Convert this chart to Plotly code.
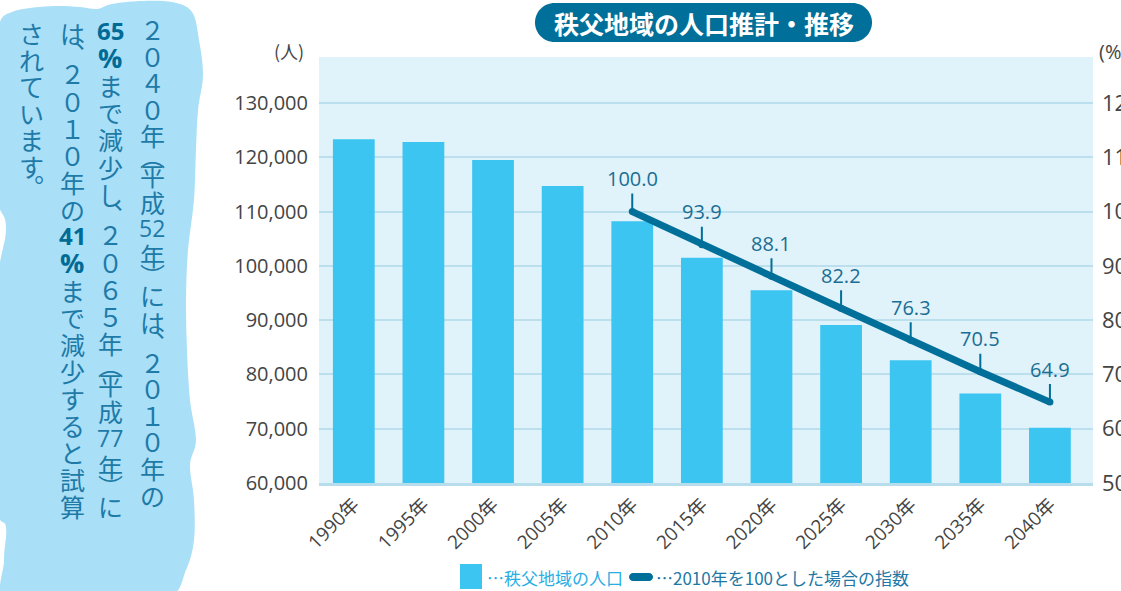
import plotly.graph_objects as go

# ---------------- data ----------------
years = ["1990年", "1995年", "2000年", "2005年", "2010年", "2015年",
         "2020年", "2025年", "2030年", "2035年", "2040年"]
population = [123300, 122800, 119500, 114700, 108200, 101500,
              95500, 89100, 82600, 76500, 70200]
index_years = ["2010年", "2015年", "2020年", "2025年", "2030年", "2035年", "2040年"]
index_values = [100.0, 93.9, 88.1, 82.2, 76.3, 70.5, 64.9]
left_ticks = [60000, 70000, 80000, 90000, 100000, 110000, 120000, 130000]
right_ticks = [50, 60, 70, 80, 90, 100, 110, 120]

title_text = "秩父地域の人口推計・推移"
legend_bar_text = "…秩父地域の人口"
legend_line_text = "…2010年を100とした場合の指数"
left_unit = "(人)"
right_unit = "(%)"

# vertical note, columns right to left
note_col1 = ["２", "０", "４", "０", "年", "︵", "平", "成", "52", "年", "︶", "に", "は", "︑",
             "２", "０", "１", "０", "年", "の"]
note_col2 = ["65", "%", "ま", "で", "減", "少", "し", "︑", "２", "０", "６", "５", "年", "︵",
             "平", "成", "77", "年", "︶", "に"]
note_col3 = ["は", "︑", "２", "０", "１", "０", "年", "の", "41", "%", "ま", "で", "減", "少",
             "す", "る", "と", "試", "算"]
note_col4 = ["さ", "れ", "て", "い", "ま", "す", "︒"]

# ---------------- style ----------------
W, H = 1121, 591
JP = "Noto Sans CJK JP"
NUM = "Open Sans, Noto Sans CJK JP"
DARK = "#006f99"
BAR = "#3dc5f2"
TXT = "#444444"


def px(x):
    return x / W


def py(y):
    return 1 - y / H


def smooth_path(points):
    n = len(points)
    pts = [(px(x), py(y)) for x, y in points]
    d = "M %.5f,%.5f " % pts[0]
    for i in range(n):
        p0 = pts[(i - 1) % n]
        p1 = pts[i]
        p2 = pts[(i + 1) % n]
        p3 = pts[(i + 2) % n]
        c1 = (p1[0] + (p2[0] - p0[0]) / 6, p1[1] + (p2[1] - p0[1]) / 6)
        c2 = (p2[0] - (p3[0] - p1[0]) / 6, p2[1] - (p3[1] - p1[1]) / 6)
        d += "C %.5f,%.5f %.5f,%.5f %.5f,%.5f " % (c1 + c2 + p2)
    return d + "Z"


def round_rect(x0, y0, x1, y1, r):
    k = 0.5523 * r
    seg = [
        ("M", (x0 + r, y0)), ("L", (x1 - r, y0)),
        ("C", (x1 - r + k, y0), (x1, y0 + r - k), (x1, y0 + r)),
        ("L", (x1, y1 - r)),
        ("C", (x1, y1 - r + k), (x1 - r + k, y1), (x1 - r, y1)),
        ("L", (x0 + r, y1)),
        ("C", (x0 + r - k, y1), (x0, y1 - r + k), (x0, y1 - r)),
        ("L", (x0, y0 + r)),
        ("C", (x0, y0 + r - k), (x0 + r - k, y0), (x0 + r, y0)),
    ]
    out = ""
    for s in seg:
        out += s[0] + " " + " ".join("%.5f,%.5f" % (px(a), py(b)) for a, b in s[1:]) + " "
    return out + "Z"


fig = go.Figure()
fig.add_trace(go.Bar(x=years, y=population, marker=dict(color=BAR, line=dict(width=0)),
                     yaxis="y", hoverinfo="x+y"))
fig.add_trace(go.Scatter(x=index_years, y=index_values, yaxis="y2", mode="lines+markers",
                         line=dict(color=DARK, width=7), marker=dict(color=DARK, size=7)))

y_top = 60000 + (483 - 57) / 380 * 70000
y2_top = 50 + (483 - 57) / 380 * 70

fig.update_layout(
    width=W, height=H, margin=dict(l=0, r=0, t=0, b=0),
    paper_bgcolor="white", plot_bgcolor="#e0f2fa", showlegend=False, bargap=0.4,
    xaxis=dict(domain=[319 / W, 1093 / W], type="category", tickangle=-45,
               tickfont=dict(family=NUM, size=19, color=TXT), showgrid=False,
               showline=True, linecolor="#b7dcec", linewidth=3, ticks="",
               automargin=False),
    yaxis=dict(domain=[1 - 483 / H, 1 - 57 / H], range=[60000, y_top], tickvals=left_ticks,
               tickformat=",", showgrid=True, gridcolor="#bcdfee", gridwidth=2,
               zeroline=False, ticks="", ticklabelstandoff=10,
               tickfont=dict(family=NUM, size=20, color=TXT), automargin=False),
    yaxis2=dict(overlaying="y", side="right", anchor="x", range=[50, y2_top],
                tickvals=right_ticks, showgrid=False, zeroline=False, ticks="",
                ticklabelstandoff=8, tickfont=dict(family=NUM, size=22, color=TXT),
                automargin=False),
)

shapes = []
annotations = []

# note blob
blob = [(0, 22), (12, 12), (30, 8), (55, 6), (80, 7), (97, 9), (112, 4), (140, 1),
        (172, 2), (192, 12), (199, 40), (203, 75), (198, 110), (196, 150), (194, 200),
        (188, 250), (186, 300), (187, 350), (190, 400), (196, 440), (190, 465),
        (194, 500), (194, 540), (186, 570), (168, 598), (100, 604), (8, 604),
        (4, 560), (6, 527), (-4, 495), (-4, 300), (6, 228), (-4, 190), (-4, 60)]
shapes.append(dict(type="path", xref="paper", yref="paper", path=smooth_path(blob),
                   fillcolor="#aadff8", line=dict(width=0), layer="below"))

# title pill
shapes.append(dict(type="path", xref="paper", yref="paper",
                   path=round_rect(535, 3, 872, 42, 19.5), fillcolor=DARK, line=dict(width=0)))
annotations.append(dict(x=px(703.5), y=py(23), xref="paper", yref="paper", showarrow=False,
                        text="<b>" + title_text + "</b>", xanchor="center", yanchor="middle",
                        font=dict(family=JP, size=25, color="white")))

# units
annotations.append(dict(x=px(306), y=py(51), xref="paper", yref="paper", showarrow=False,
                        text=left_unit, xanchor="right", yanchor="middle",
                        font=dict(family=JP, size=18, color=TXT)))
annotations.append(dict(x=px(1097), y=py(51), xref="paper", yref="paper", showarrow=False,
                        text=right_unit, xanchor="left", yanchor="middle",
                        font=dict(family=NUM, size=20, color=TXT)))

# data labels with stems
for xv, yv in zip(index_years, index_values):
    annotations.append(dict(x=xv, y=yv, xref="x", yref="y2", text="%.1f" % yv,
                            showarrow=True, arrowhead=0, arrowwidth=2, arrowcolor=DARK,
                            ax=0, ay=-33, standoff=0,
                            font=dict(family=NUM, size=20, color="#1a6e94")))

# legend
shapes.append(dict(type="rect", xref="paper", yref="paper", x0=px(460), x1=px(482),
                   y0=py(589), y1=py(564), fillcolor=BAR, line=dict(width=0)))
annotations.append(dict(x=px(485), y=py(577), xref="paper", yref="paper", showarrow=False,
                        text=legend_bar_text, xanchor="left", yanchor="middle",
                        font=dict(family=JP, size=17, color="#2aaee3")))
shapes.append(dict(type="path", xref="paper", yref="paper",
                   path=round_rect(629, 573, 653, 581, 4), fillcolor=DARK, line=dict(width=0)))
annotations.append(dict(x=px(654), y=py(577), xref="paper", yref="paper", showarrow=False,
                        text=legend_line_text, xanchor="left", yanchor="middle",
                        font=dict(family=JP, size=17, color="#2178a5")))

# vertical note text
HALF = {"︵", "︶", "︑", "︒"}
BOLD = {"65", "41", "%"}


def add_column(tokens, xc, yfirst, full_adv):
    half_adv = full_adv / 2
    y = yfirst
    prev = None
    for t in tokens:
        adv = half_adv if t in HALF else full_adv
        if prev is not None:
            y += (prev + adv) / 2
        prev = adv
        if t in BOLD:
            txt = "<b>" + t + "</b>"
            fnt = dict(family="Open Sans", size=27 if t == "%" else 24, color="#006b95")
        elif t.isascii():
            txt = t
            fnt = dict(family="Open Sans", size=23, color="#1e7aa7")
        else:
            txt = t
            fnt = dict(family=JP, size=25, color="#1e7aa7")
        annotations.append(dict(x=px(xc), y=py(y), xref="paper", yref="paper",
                                showarrow=False, text=txt, xanchor="center",
                                yanchor="middle", font=fnt, borderpad=0))


add_column(note_col1, 152, 29, 26.6)
add_column(note_col2, 110, 30.5, 27.2)
add_column(note_col3, 72, 33, 27.0)
add_column(note_col4, 31, 33, 26.6)

fig.update_layout(shapes=shapes, annotations=annotations)
fig.write_html("out.html")
